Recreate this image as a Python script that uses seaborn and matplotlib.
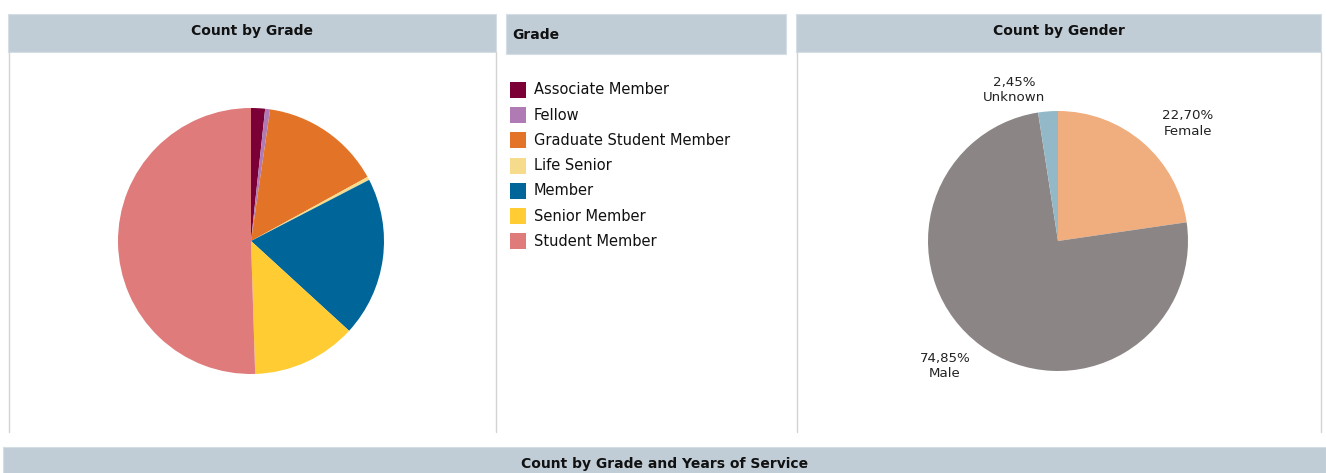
import matplotlib
matplotlib.use("Agg")
import matplotlib.pyplot as plt
from matplotlib.patches import Rectangle
import seaborn as sns

sns.set_theme(style="white")
plt.rcParams['font.family'] = ['DejaVu Sans']

# ---- data ----
grades = ["Associate Member", "Fellow", "Graduate Student Member", "Life Senior",
          "Member", "Senior Member", "Student Member"]
grade_share = [1.7, 0.6, 14.7, 0.4, 19.4, 12.7, 50.5]
grade_colors = ["#7B0036", "#B07AB5", "#E37326", "#F5DB8B", "#006699", "#FFCC33", "#E07B7B"]

genders = ["Female", "Male", "Unknown"]
gender_share = [22.70, 74.85, 2.45]
gender_colors = ["#F0AD7E", "#8B8685", "#93B9C9"]
gender_labels = ["22,70%\nFemale", "74,85%\nMale", "2,45%\nUnknown"]

W, H = 1326, 473
HEADER = "#C0CDD7"
BORDER = "#D3D3D3"

fig = plt.figure(figsize=(W / 100, H / 100), dpi=100)
fig.patch.set_facecolor("white")

# overlay in pixel coordinates
ov = fig.add_axes([0, 0, 1, 1])
ov.set_xlim(0, W)
ov.set_ylim(H, 0)
ov.axis("off")

def header(x0, x1, y0, y1, text, ty, ha="center", tx=None, size=10):
    ov.add_patch(Rectangle((x0, y0), x1 - x0, y1 - y0, facecolor=HEADER, edgecolor="#D5DEE5", lw=0.8))
    if tx is None:
        tx = (x0 + x1) / 2
    ov.text(tx, ty, text, ha=ha, va="center", fontsize=size,
            fontweight="bold", color="#111111")

header(8, 496, 14, 52, "Count by Grade", 31)
header(506, 786, 14, 54, "Grade", 35, ha="left", tx=512)
header(796, 1321, 14, 52, "Count by Gender", 31)
header(3, 1326, 447, 490, "Count by Grade and Years of Service", 464)

# panel borders
for x in (8.5, 495.5, 796.5, 1320.5):
    ov.plot([x, x], [52, 432], color=BORDER, lw=1)

# legend
for i, (g, c) in enumerate(zip(grades, grade_colors)):
    yc = 90 + i * 25.2
    ov.add_patch(Rectangle((510, yc - 8), 16, 16, facecolor=c, edgecolor="none"))
    ov.text(534, yc, g, ha="left", va="center", fontsize=10.5, color="#111111")

def pie_axes(cx, cy, r):
    ax = fig.add_axes([(cx - r) / W, 1 - (cy + r) / H, 2 * r / W, 2 * r / H])
    return ax

def finish(ax):
    ax.set_xlim(-1, 1)
    ax.set_ylim(-1, 1)
    ax.axis("off")

ax1 = pie_axes(251, 241, 133)
ax1.pie(grade_share, colors=grade_colors, startangle=90, counterclock=False,
        radius=1, wedgeprops=dict(linewidth=0))
finish(ax1)

ax2 = pie_axes(1058, 241, 130)
ax2.pie(gender_share, colors=gender_colors, startangle=90, counterclock=False,
        radius=1, wedgeprops=dict(linewidth=0))
finish(ax2)
label_pos = [(1.0, 0.905), (-0.87, -0.96), (-0.34, 1.16)]
for (x, y), t in zip(label_pos, gender_labels):
    ax2.text(x, y, t, ha="center", va="center", fontsize=9.6, color="#222222",
             linespacing=1.25, clip_on=False)

fig.savefig("out.png", dpi=100, facecolor="white")
